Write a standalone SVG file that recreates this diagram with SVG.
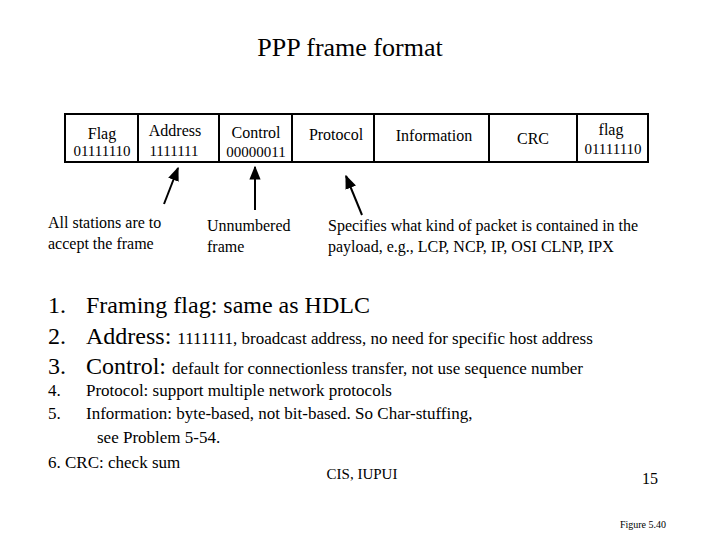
<svg xmlns="http://www.w3.org/2000/svg" width="720" height="540" viewBox="0 0 720 540" font-family="'Liberation Serif', 'Times New Roman', serif">
<style>
text{font-family:"Liberation Serif","Times New Roman",serif}
.f{font-size:16px}
.s{font-size:15px}
.b{font-size:24px}
.m{font-size:17px}
.c{text-anchor:middle}
</style>
<defs><marker id="a" viewBox="0 0 10 10" refX="9" refY="5" markerWidth="7" markerHeight="7" orient="auto"><path d="M0,1L10,5L0,9z" fill="#000"/></marker></defs>
<rect width="720" height="540" fill="#fff"/>
<text x="350" y="56" class="c" font-size="26">PPP frame format</text>
<g id="frame" fill="none" stroke="#000" stroke-width="2">
<rect x="65" y="114" width="583" height="48"/>
<path d="M138 114V162M219 114V162M292 114V162M374 114V162M489 114V162M577 114V162"/>
</g>
<g id="fields">
<text x="102" y="139" class="f c">Flag</text><text x="102" y="156" class="s c">01111110</text>
<text x="175" y="136" class="f c">Address</text><text x="174" y="156" class="s c">1111111</text>
<text x="256" y="138" class="f c">Control</text><text x="256" y="157" class="s c">00000011</text>
<text x="336" y="140" class="f c">Protocol</text>
<text x="434" y="141" class="f c">Information</text>
<text x="533" y="144" class="f c">CRC</text>
<text x="611" y="135" class="f c">flag</text><text x="613" y="154" class="s c">01111110</text>
</g>
<g id="connectors" stroke="#000" stroke-width="2" fill="none">
<line x1="164" y1="204" x2="178" y2="168" marker-end="url(#a)"/>
<line x1="255" y1="210" x2="255" y2="167" marker-end="url(#a)"/>
<line x1="362" y1="215" x2="346" y2="176" marker-end="url(#a)"/>
</g>
<g id="notes">
<text x="48" y="228" class="f">All stations are to</text>
<text x="48" y="249" class="f">accept the frame</text>
<text x="207" y="231" class="f">Unnumbered</text>
<text x="207" y="252" class="f">frame</text>
<text x="328" y="231" class="f">Specifies what kind of packet is contained in the</text>
<text x="328" y="252" class="f">payload, e.g.,  LCP, NCP, IP, OSI CLNP, IPX</text>
</g>
<g id="list" font-family="'Liberation Serif', serif">
<text x="48" y="313" class="b">1.</text><text x="86" y="313" class="b">Framing flag: same as HDLC</text>
<text x="48" y="344" class="b">2.</text><text x="86" y="344" class="b">Address: <tspan class="m">1111111, broadcast address, no need for specific host address</tspan></text>
<text x="48" y="374" class="b">3.</text><text x="86" y="374" class="b">Control: <tspan class="m">default for connectionless transfer, not use sequence number</tspan></text>
<text x="48" y="396" class="m">4.</text><text x="86" y="396" class="m">Protocol: support multiple network protocols</text>
<text x="48" y="419" class="m">5.</text><text x="86" y="419" class="m">Information: byte-based, not bit-based. So Char-stuffing,</text>
<text x="97" y="443" class="m">see  Problem 5-54.</text>
<text x="48" y="468" class="m">6. CRC: check sum</text>
</g>
<text x="362" y="479" font-size="15" class="c">CIS, IUPUI</text>
<text x="650" y="484" font-size="16" class="c">15</text>
<text x="643" y="528" font-size="10" class="c">Figure 5.40</text>
</svg>
